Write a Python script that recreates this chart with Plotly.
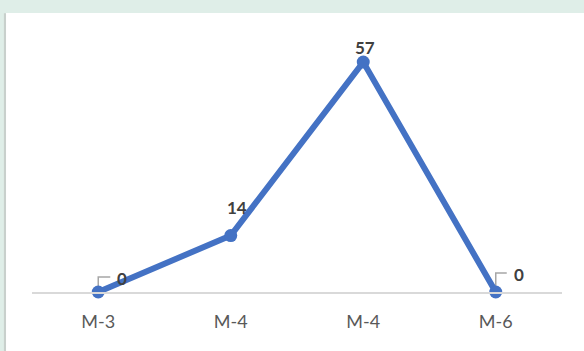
import plotly.graph_objects as go

# Monthly counts
months = ["M-3", "M-4", "M-4", "M-6"]
counts = [0, 14, 57, 0]

# Label offsets (pixels) for each data label
label_dx = [24, 6, 2, 23]
label_dy = [14, 28, 15, 18]

x_pos = list(range(len(months)))

LINE_BLUE = "#4472c4"
AXIS_GRAY = "#d9d9d9"
TEXT_GRAY = "#595959"
LABEL_DARK = "#404040"
FONT = "Lato, 'Open Sans', sans-serif"

fig = go.Figure()
fig.add_trace(go.Scatter(
    x=x_pos,
    y=counts,
    mode="lines+markers",
    line=dict(color=LINE_BLUE, width=6),
    marker=dict(color=LINE_BLUE, size=13),
    cliponaxis=False,
    hoverinfo="skip",
))

annotations = []
shapes = []

# white card on a mint background, with a soft shadow on the left edge
shapes.append(dict(type="rect", xref="paper", yref="paper",
                   x0=-0.053, x1=-0.045, y0=-0.3, y1=1.152,
                   fillcolor="#c8d0cc", line=dict(width=0), layer="below"))
shapes.append(dict(type="rect", xref="paper", yref="paper",
                   x0=-0.049, x1=1.1, y0=-0.3, y1=1.153,
                   fillcolor="white", line=dict(width=0), layer="below"))

for i, (xv, yv) in enumerate(zip(x_pos, counts)):
    annotations.append(dict(
        x=xv, y=yv, xref="x", yref="y",
        text=f"<b>{yv}</b>", showarrow=False,
        xshift=label_dx[i], yshift=label_dy[i],
        font=dict(family=FONT, size=17, color=LABEL_DARK),
    ))
    # small leader line for labels sitting on the baseline
    if yv == 0:
        top = label_dy[i] + 1
        shapes.append(dict(
            type="path", xref="x", yref="y",
            xsizemode="pixel", ysizemode="pixel",
            xanchor=xv, yanchor=yv,
            path=f"M0,2 L0,{top} L{label_dx[i] - 12},{top}",
            line=dict(color="#a6a6a6", width=1.5),
            layer="below",
        ))

fig.update_layout(
    width=584, height=351,
    margin=dict(l=32, r=22, t=50, b=59),
    paper_bgcolor="#dfeee8",
    plot_bgcolor="rgba(0,0,0,0)",
    showlegend=False,
    annotations=annotations,
    shapes=shapes,
    xaxis=dict(
        range=[-0.5, len(months) - 0.5],
        tickvals=x_pos, ticktext=months,
        showgrid=False, zeroline=False,
        showline=True, linecolor=AXIS_GRAY, linewidth=1.5,
        ticks="", ticklabelstandoff=13,
        tickfont=dict(family=FONT, size=18, color=TEXT_GRAY),
        fixedrange=True,
    ),
    yaxis=dict(
        range=[0, 60], visible=False, showgrid=False, zeroline=False,
        fixedrange=True,
    ),
)

fig.write_html("out.html", config={"displayModeBar": False})
